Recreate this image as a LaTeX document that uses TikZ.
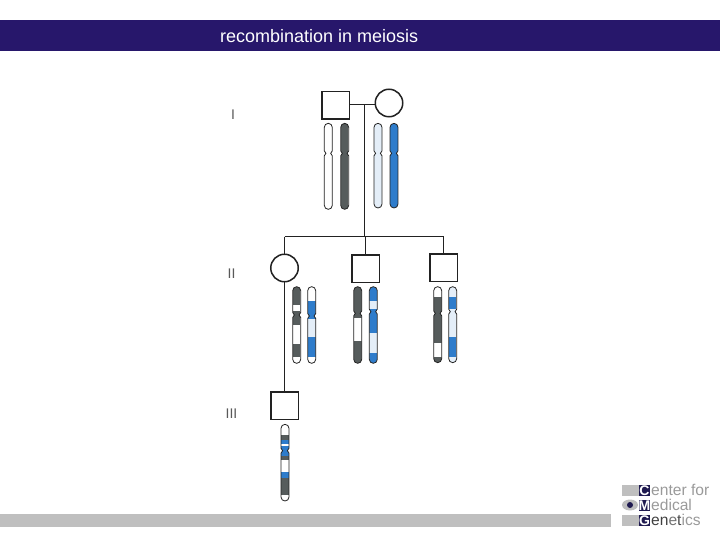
\documentclass[tikz,border=0pt]{standalone}
\usepackage{fontspec}
\setmainfont{Liberation Sans}
\definecolor{banner}{HTML}{27176B}
\definecolor{barg}{HTML}{BFBFBF}
\definecolor{dk}{HTML}{565C5C}
\definecolor{bl}{HTML}{2E7CCB}
\definecolor{lt}{HTML}{E4EEF8}
\definecolor{wh}{HTML}{FFFFFF}
\definecolor{ink}{HTML}{222222}
\definecolor{cmg}{HTML}{1F1A50}
\definecolor{cmt}{HTML}{9A9A9A}
% \chromo{x}{base}{top}{bot}{cen}{bands}: y values in units of 1/3 px above base
\newcommand{\chromo}[6]{%
  \pgfmathsetmacro{\cT}{#2+#3/3}%
  \pgfmathsetmacro{\cB}{#2+#4/3}%
  \pgfmathsetmacro{\cC}{#2+#5/3}%
  \pgfmathsetmacro{\cL}{#1-4}%
  \pgfmathsetmacro{\cR}{#1+4}%
  \pgfmathsetmacro{\cLn}{#1-2.4}%
  \pgfmathsetmacro{\cRn}{#1+2.4}%
  \pgfmathsetmacro{\cU}{\cC-2.5}%
  \pgfmathsetmacro{\cD}{\cC+2.5}%
  \def\cPath{(\cL,\cT+4) arc[start angle=180,end angle=360,radius=4] -- (\cR,\cU) -- (\cRn,\cC) -- (\cR,\cD) -- (\cR,\cB-4) arc[start angle=0,end angle=180,radius=4] -- (\cL,\cD) -- (\cLn,\cC) -- (\cL,\cU) -- cycle}%
  \begin{scope}
    \clip \cPath;
    \foreach \col/\a/\b in {#6} {
      \fill[\col] (\cL,{#2+\a/3}) rectangle (\cR,{#2+\b/3});
    }
  \end{scope}
  \draw[chromline] \cPath;
}
\begin{document}
\begin{tikzpicture}[x=1pt,y=-1pt,
  lineage/.style={draw=ink,line width=1.5pt},
  male/.style={draw=ink,line width=1.5pt,fill=white,rectangle,minimum size=27.5pt,inner sep=0pt,outer sep=0pt},
  female/.style={draw=ink,line width=1.5pt,fill=white,circle,minimum size=27.5pt,inner sep=0pt,outer sep=0pt},
  chromline/.style={draw=ink,line width=0.8pt},
  genlabel/.style={text=black!65,font=\fontsize{14}{14}\selectfont,inner sep=0pt,anchor=center},
  logobox/.style={fill=cmg,text=white,minimum width=11.5pt,minimum height=11pt,inner sep=0pt,font=\fontsize{14}{14}\selectfont\bfseries},
  logotext/.style={inner sep=0pt,anchor=base west,font=\fontsize{15.6}{15.6}\selectfont},
  grayblock/.style={fill=barg}]
\useasboundingbox (0,0) rectangle (720,540);
% banner and footer
\fill[banner] (0,20) rectangle (720,51);
\node[inner sep=0pt,anchor=base west,text=white,font=\fontsize{18}{18}\selectfont] (title) at (220,42.5) {recombination in meiosis};
\fill[barg] (0,514) rectangle (611,527);
% generation labels
\node[genlabel] (g1) at (233,115) {I};
\node[genlabel] (g2) at (231.5,274) {II};
\node[genlabel] (g3) at (231.5,414) {III};
% people
\node[male] (sqI) at (335.5,105.5) {};
\node[female] (circI) at (389,103) {};
\node[female] (circII) at (284.5,268) {};
\node[male] (sqII) at (365.5,268.5) {};
\node[male] (sqIIb) at (443.5,267.5) {};
\node[male] (sqIII) at (284.5,405.5) {};
\coordinate (mate) at (364.5,104.5);
\coordinate (sibtop) at (364.5,236.5);
\coordinate (sibL) at (circII.north |- sibtop);
\coordinate (sibM) at (sqII.north |- sibtop);
\coordinate (sibR) at (sqIIb.north |- sibtop);
\draw[lineage] (sqI.east |- mate) -- (circI.west |- mate);
\draw[lineage] (mate) -- (sibtop);
\draw[lineage] (sibL) -- (sibR);
\draw[lineage] (sibL) -- (circII.north);
\draw[lineage] (sibM) -- (sqII.north);
\draw[lineage] (sibR) -- (sqIIb.north);
\draw[lineage] (circII.south) -- (sqIII.north);
% generation I chromosomes
\chromo{328.3}{80}{130}{388}{220}{wh/130/388}
\chromo{344.7}{80}{130}{388}{220}{dk/130/388}
\chromo{378}{80}{130}{384}{220}{lt/130/384}
\chromo{394}{80}{130}{384}{220}{bl/130/384}
% generation II chromosomes
\chromo{296.7}{250}{110}{340}{195}{dk/110/165,wh/165/183,dk/183/225,wh/225/282,dk/282/322,wh/322/340}
\chromo{311.7}{250}{110}{340}{198}{wh/110/152,bl/152/208,lt/208/262,bl/262/322,wh/322/340}
\chromo{357.7}{250}{110}{340}{190}{dk/110/205,wh/205/272,dk/272/340}
\chromo{373.3}{250}{110}{340}{185}{bl/110/152,lt/152/178,bl/178/250,lt/250/310,bl/310/340}
\chromo{437.7}{250}{110}{338}{190}{wh/110/140,dk/140/280,wh/280/322,dk/322/338}
\chromo{452.7}{250}{110}{338}{185}{lt/110/140,bl/140/178,lt/178/260,bl/260/322,lt/322/338}
% generation III chromosome
\chromo{285}{385}{118}{348}{197}{wh/118/150,dk/150/165,bl/165/178,wh/178/182,bl/182/212,dk/212/225,wh/225/262,bl/262/278,dk/278/330,wh/330/348}
% logo
\fill[grayblock] (622,484.5) rectangle (638.5,496);
\fill[grayblock] (622,514.5) rectangle (638.5,526);
\fill[barg] (630,505) ellipse (8 and 5.5);
\fill[cmg] (630,505) circle (3);
\node[logobox] (lc) at (644.5,490.5) {C};
\node[logobox] (lm) at (644.5,505.5) {M};
\node[logobox] (lg) at (644.5,520.5) {G};
\node[logotext,text=cmt] (tc) at (651,495.5) {enter for};
\node[logotext,text=cmt] (tm) at (651,510.5) {edical};
\node[logotext] (tg) at (651,525.5) {\textcolor{black!75}{en}\textcolor{black!55}{e}\textcolor{black!70}{t}\textcolor{cmt}{ics}};
\end{tikzpicture}
\end{document}
